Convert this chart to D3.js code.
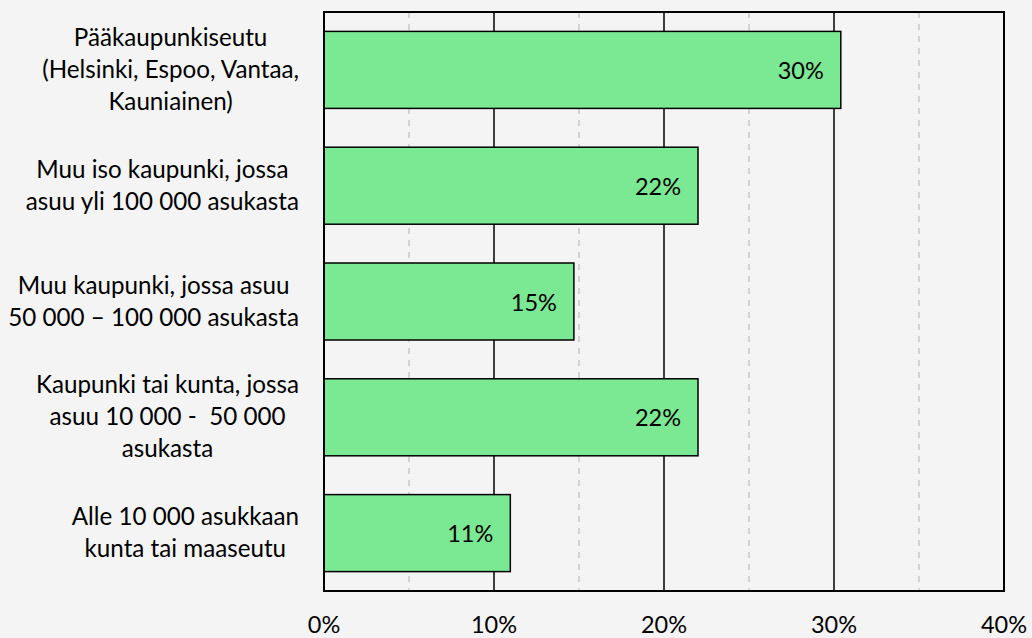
<!DOCTYPE html>
<html>
<head>
<meta charset="utf-8">
<script src="https://cdn.jsdelivr.net/npm/d3@7"></script>
<style>
  body { margin: 0; background: #f4f4f4; }
  svg { display: block; font-family: Lato, "Open Sans", sans-serif; }
</style>
</head>
<body>
<svg width="1032" height="638"></svg>
<script>
// categories, one array of lines per label (wrapped as in the original)
var categories = [
  ['Pääkaupunkiseutu', '(Helsinki, Espoo, Vantaa,', 'Kauniainen)'],
  ['Muu iso kaupunki, jossa', 'asuu yli 100 000 asukasta'],
  ['Muu kaupunki, jossa asuu', '50 000 – 100 000 asukasta'],
  ['Kaupunki tai kunta, jossa', 'asuu 10 000 -  50 000', 'asukasta'],
  ['Alle 10 000 asukkaan', 'kunta tai maaseutu']
];
var values = [0.304, 0.22, 0.147, 0.22, 0.1096];
var majorTicks = [0, 0.1, 0.2, 0.3, 0.4];
var minorTicks = [0.05, 0.15, 0.25, 0.35];

var svg = d3.select('svg');
var margin = {top: 12, right: 28, bottom: 47, left: 324};
var width = 1032 - margin.left - margin.right;
var height = 638 - margin.top - margin.bottom;
var fontSize = 23.5;
var catFontSize = 24.2;

var x = d3.scaleLinear().domain([0, 0.4]).range([0, width]);
var y = d3.scaleBand()
  .domain(d3.range(categories.length))
  .range([0, height])
  .paddingInner(0.335)
  .paddingOuter(0.1675);

var g = svg.append('g')
  .attr('transform', 'translate(' + margin.left + ',' + margin.top + ')');

// minor dashed gridlines
g.selectAll('.minor')
  .data(minorTicks)
  .enter().append('line')
  .attr('class', 'minor')
  .attr('x1', function(d) { return x(d); })
  .attr('x2', function(d) { return x(d); })
  .attr('y1', 0)
  .attr('y2', height)
  .style('stroke', '#c8c8c8')
  .style('stroke-width', 1.5)
  .style('stroke-dasharray', '6,6');

// major gridlines
g.selectAll('.major')
  .data(majorTicks.slice(1, -1))
  .enter().append('line')
  .attr('class', 'major')
  .attr('x1', function(d) { return x(d); })
  .attr('x2', function(d) { return x(d); })
  .attr('y1', 0)
  .attr('y2', height)
  .style('stroke', '#000')
  .style('stroke-width', 1.5);

// bars
g.selectAll('.bar')
  .data(values)
  .enter().append('rect')
  .attr('class', 'bar')
  .attr('x', x(0))
  .attr('y', function(d, i) { return y(i); })
  .attr('width', function(d) { return x(d) - x(0); })
  .attr('height', y.bandwidth())
  .style('fill', '#7be893')
  .style('stroke', '#000')
  .style('stroke-width', 1.5);

// value labels inside bars
g.selectAll('.value')
  .data(values)
  .enter().append('text')
  .attr('class', 'value')
  .attr('x', function(d) { return x(d) - 17; })
  .attr('y', function(d, i) { return y(i) + y.bandwidth() / 2 + 9; })
  .attr('text-anchor', 'end')
  .style('font-size', fontSize + 'px')
  .style('fill', '#000')
  .text(d3.format('.0%'));

// plot frame
g.append('rect')
  .attr('width', width)
  .attr('height', height)
  .style('fill', 'none')
  .style('stroke', '#000')
  .style('stroke-width', 2);

// x axis labels
g.selectAll('.tick-label')
  .data(majorTicks)
  .enter().append('text')
  .attr('class', 'tick-label')
  .attr('x', function(d) { return x(d); })
  .attr('y', height + 42)
  .attr('text-anchor', 'middle')
  .style('font-size', fontSize + 'px')
  .text(d3.format('.0%'));

// category labels: lines centred on the widest line, block right-aligned
var labelRight = 299;
var lineHeight = 32;
categories.forEach(function(lines, i) {
  var block = svg.append('g');
  var cy = margin.top + y(i) + y.bandwidth() / 2;
  var texts = block.selectAll('text')
    .data(lines)
    .enter().append('text')
    .attr('y', function(d, j) { return cy + 8 + (j - (lines.length - 1) / 2) * lineHeight; })
    .attr('text-anchor', 'middle')
    .style('font-size', catFontSize + 'px')
    .style('white-space', 'pre')
    .text(function(d) { return d; });
  var maxW = d3.max(texts.nodes(), function(n) { return n.getComputedTextLength(); });
  texts.attr('x', labelRight - maxW / 2);
});
</script>
</body>
</html>
